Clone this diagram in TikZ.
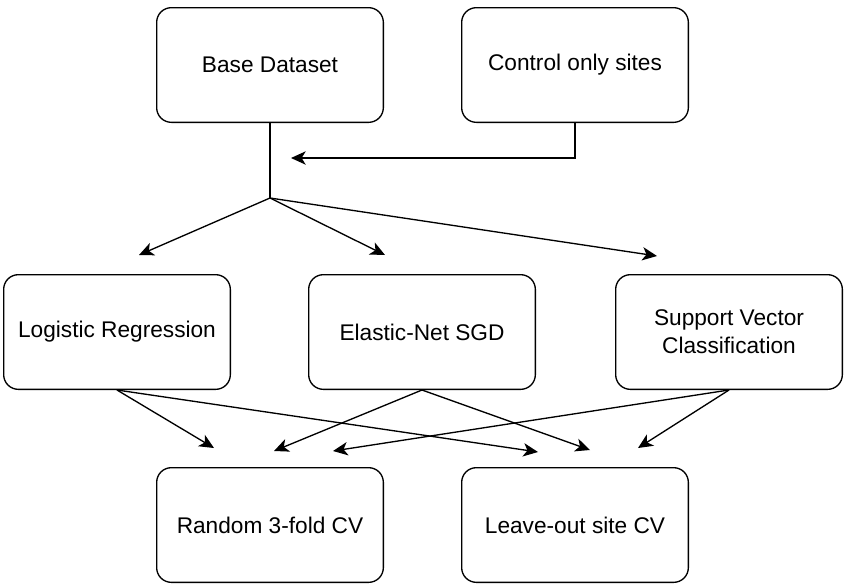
\documentclass[tikz,border=0pt]{standalone}
\usepackage{fontspec}
\setmainfont{Liberation Sans}
\usepackage{tikz}
\usetikzlibrary{arrows.meta}

\begin{document}
\begin{tikzpicture}[
    x=0.75pt, y=-0.75pt,
    box/.style={draw, line width=1pt, rounded corners=11pt, minimum width=170pt,
      minimum height=86pt, align=center, font=\fontsize{17}{21}\selectfont},
    link/.style={line width=1pt, -{Stealth[length=11pt, width=10pt, inset=3pt]}},
  ]
  \useasboundingbox (0,0) rectangle (845,586);

  \node[box] (base) at (270,65) {Base Dataset};
  \node[box] (control) at (575,65) {Control only sites};
  \node[box] (logreg) at (117,332) {Logistic Regression};
  \node[box] (enet) at (422,332) {Elastic-Net SGD};
  \node[box] (svc) at (729,332) {Support Vector\\Classification};
  \node[box] (rand) at (270,525) {Random 3-fold CV};
  \node[box] (leave) at (575,525) {Leave-out site CV};

  \coordinate (split) at (270,198);
  \coordinate (join) at (291,158);
  \coordinate (toLR) at (139,255);
  \coordinate (toEN) at (385,255);
  \coordinate (toSVC) at (657,256);

  \draw[line width=1pt] (base.south) -- (split);
  \draw[link] (control.south) |- (join);
  \draw[link] (split) -- (toLR);
  \draw[link] (split) -- (toEN);
  \draw[link] (split) -- (toSVC);

  \coordinate (lrRand) at (214,448);
  \coordinate (lrLeave) at (538,452);
  \coordinate (enRand) at (274,451);
  \coordinate (enLeave) at (590,450);
  \coordinate (svcRand) at (333,451);
  \coordinate (svcLeave) at (638,448);

  \draw[link] (logreg.south) -- (lrRand);
  \draw[link] (logreg.south) -- (lrLeave);
  \draw[link] (enet.south) -- (enRand);
  \draw[link] (enet.south) -- (enLeave);
  \draw[link] (svc.south) -- (svcRand);
  \draw[link] (svc.south) -- (svcLeave);
\end{tikzpicture}
\end{document}
